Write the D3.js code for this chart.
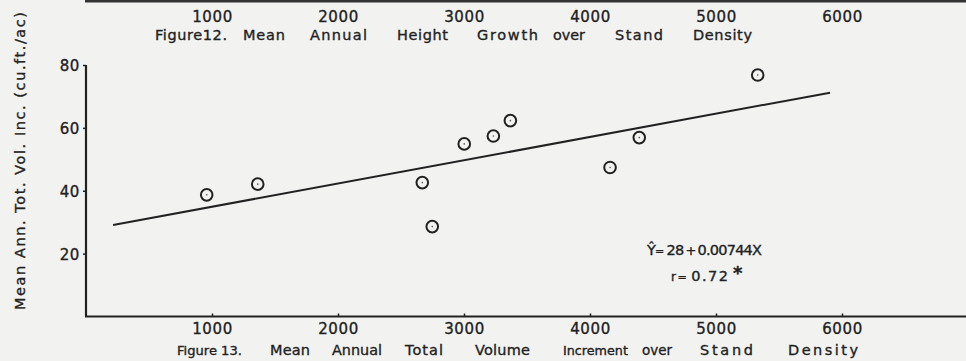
<!DOCTYPE html>
<html>
<head>
<meta charset="utf-8">
<script src="https://cdn.jsdelivr.net/npm/d3@7"></script>
<style>
  html, body { margin: 0; padding: 0; background: #f2f2f1; }
  svg { display: block; }
  text { font-family: "DejaVu Sans", sans-serif; fill: #222; stroke: #222; stroke-width: 0.35px; }
</style>
</head>
<body>
<script>
// Figure 13 data: stand density (x) vs mean annual total volume increment (y)
var density   = [958, 1363, 2669, 2748, 3002, 3233, 3368, 4159, 4391, 5331];
var increment = [38.7, 42.1, 42.6, 28.6, 54.9, 57.4, 62.3, 47.4, 56.9, 76.8];

// fitted line end points
var fitX = [215, 5905];
var fitY = [29.1, 71.2];

var xTicks = [1000, 2000, 3000, 4000, 5000, 6000];
var yTicks = [20, 40, 60, 80];

var captionTop = ['Figure12.', 'Mean', 'Annual', 'Height', 'Growth', 'over', 'Stand', 'Density'];
var captionBottom = ['Figure 13.', 'Mean', 'Annual', 'Total', 'Volume', 'Increment', 'over', 'Stand', 'Density'];
var yTitle = 'Mean  Ann.  Tot.  Vol.  Inc.  (cu.ft./ac)';

//////////////
// Layout   //
//////////////
var W = 966, H = 361;
var ink = '#222';
var baseSize = 14.5;

// word placement (start, end) of the lettered captions
var topWordPos = [[155, 227], [243, 285], [310, 367], [397, 448], [477, 538], [553, 585], [615, 663], [693, 752]];
var bottomWordPos = [[177, 242], [270, 310], [332, 382], [405, 443], [475, 530], [563, 628], [642, 672], [700, 753], [788, 858]];

var svg = d3.select('body').append('svg')
  .attr('width', W)
  .attr('height', H);

var x = d3.scaleLinear().domain([0, 7000]).range([86, 968]);
var y = d3.scaleLinear().domain([0, 80]).range([316.5, 65]);

// remnant of the previous figure's axis at the top
svg.append('line')
  .attr('x1', 85).attr('x2', W)
  .attr('y1', 1).attr('y2', 1)
  .attr('stroke', '#333')
  .attr('stroke-width', 3);

var topAxis = svg.append('g')
  .call(d3.axisBottom(x).tickValues(xTicks).tickSize(0).tickPadding(11).tickFormat(d3.format('d')));
topAxis.select('.domain').remove();

// lettered words: shrink the font if the word is too long, otherwise letter-space it
var drawCaption = function(words, pos, baseline) {
  svg.append('g').selectAll('text')
    .data(words)
    .enter()
    .append('text')
      .attr('x', function(d, i) { return pos[i][0]; })
      .attr('y', baseline)
      .style('font-size', baseSize + 'px')
      .text(function(d) { return d; })
      .each(function(d, i) {
        var target = pos[i][1] - pos[i][0];
        var natural = this.getComputedTextLength();
        var sel = d3.select(this);
        if (natural > target) {
          sel.style('font-size', (baseSize * target / natural) + 'px');
        } else {
          sel.attr('textLength', target).attr('lengthAdjust', 'spacing');
        }
      });
};

drawCaption(captionTop, topWordPos, 40);

/////////////////
// Figure 13   //
/////////////////

// axes
var xAxis = svg.append('g')
  .attr('transform', 'translate(0,' + y(0) + ')')
  .call(d3.axisBottom(x).tickValues(xTicks).tickSize(-3).tickPadding(7).tickFormat(d3.format('d')));
xAxis.select('.domain').remove();

var yAxis = svg.append('g')
  .attr('transform', 'translate(' + x(0) + ',0)')
  .call(d3.axisLeft(y).tickValues(yTicks).tickSize(3).tickPadding(3));
yAxis.select('.domain').remove();

svg.selectAll('.tick line').attr('stroke', ink).attr('stroke-width', 1.5);
svg.selectAll('.tick text')
  .style('font-family', '"DejaVu Sans", sans-serif')
  .style('font-size', '15px')
  .style('letter-spacing', '0.6px')
  .attr('fill', ink);
yAxis.selectAll('.tick text').attr('dy', '0.36em');

svg.append('line')
  .attr('x1', x(0)).attr('x2', x(0))
  .attr('y1', y(80)).attr('y2', y(0))
  .attr('stroke', ink).attr('stroke-width', 2.2);
svg.append('line')
  .attr('x1', x(0) - 1).attr('x2', W)
  .attr('y1', y(0)).attr('y2', y(0))
  .attr('stroke', ink).attr('stroke-width', 2.2);

// y title
svg.append('text')
  .attr('transform', 'translate(25,161) rotate(-90)')
  .attr('text-anchor', 'middle')
  .attr('textLength', 298)
  .attr('lengthAdjust', 'spacing')
  .style('font-size', '14.5px')
  .text(yTitle);

drawCaption(captionBottom, bottomWordPos, 355);

// fitted line
var fit = fitX.map(function(d, i) { return [d, fitY[i]]; });
svg.append('path')
  .datum(fit)
  .attr('d', d3.line().x(function(d) { return x(d[0]); }).y(function(d) { return y(d[1]); }))
  .attr('fill', 'none')
  .attr('stroke', ink)
  .attr('stroke-width', 2);

// observations: circle with a dot
var pts = density.map(function(d, i) { return {x: d, y: increment[i]}; });
var pt = svg.append('g').selectAll('g')
  .data(pts)
  .enter()
  .append('g')
    .attr('transform', function(d) { return 'translate(' + x(d.x) + ',' + y(d.y) + ')'; });
pt.append('circle')
  .attr('r', 5.8)
  .attr('fill', 'none')
  .attr('stroke', ink)
  .attr('stroke-width', 2);
pt.append('circle')
  .attr('r', 0.8)
  .attr('fill', '#555');

// regression annotation
var eq = svg.append('text')
  .attr('x', 647).attr('y', 255)
  .attr('textLength', 115)
  .attr('lengthAdjust', 'spacing')
  .style('font-size', '14.5px');
eq.append('tspan').text('\u0176');
eq.append('tspan').style('font-size', '11px').text('=');
eq.append('tspan').attr('dx', 3).text('28');
eq.append('tspan').attr('dx', 2).style('font-size', '13px').text('+');
eq.append('tspan').attr('dx', 2).text('0.00744X');

var rr = svg.append('text')
  .attr('x', 671).attr('y', 281)
  .attr('textLength', 57)
  .attr('lengthAdjust', 'spacing')
  .style('font-size', '14.5px');
rr.append('tspan').style('font-size', '12px').text('r');
rr.append('tspan').style('font-size', '11px').text('=');
rr.append('tspan').attr('dx', 3).text('0.72');

svg.append('text')
  .attr('x', 733).attr('y', 279)
  .style('font-size', '18px')
  .style('font-weight', 'bold')
  .text('*');
</script>
</body>
</html>
